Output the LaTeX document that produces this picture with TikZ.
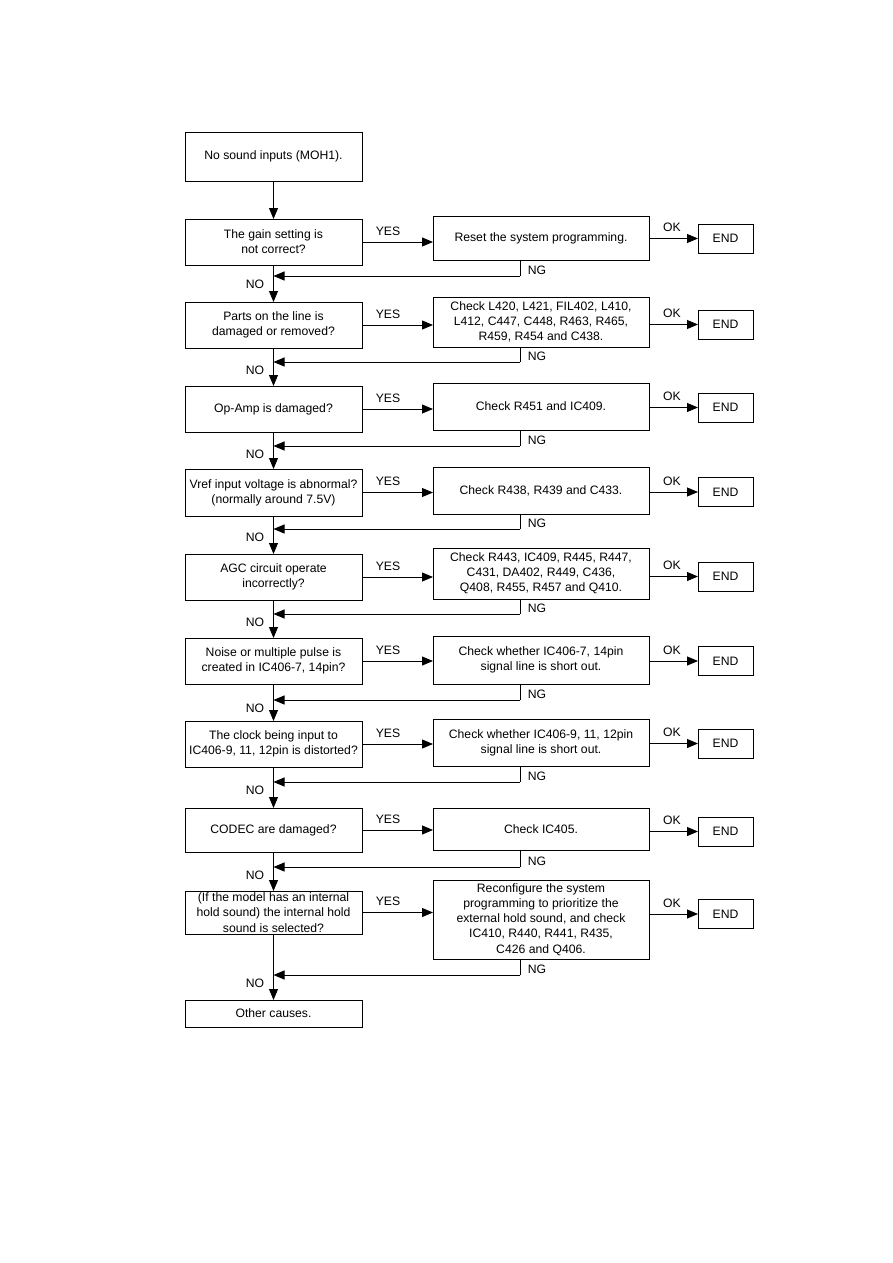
\documentclass[tikz,border=0pt]{standalone}
\usepackage{fontspec}
\setmainfont{Liberation Sans}
\usetikzlibrary{arrows.meta}
\begin{document}
\begin{tikzpicture}[x=1pt,y=-1pt,
  font=\fontsize{12.2}{15.2}\selectfont,
  box/.style={draw,line width=0.9pt,align=center,inner sep=1pt,minimum width=#1,outer sep=0pt},
  lbox/.style={box=177pt},
  cbox/.style={box=216pt},
  ebox/.style={box=55pt,minimum height=29pt},
  arr/.style={line width=0.9pt,-{Triangle[length=11pt,width=9pt]}},
  ln/.style={line width=0.9pt},
  lab/.style={inner sep=0pt}]
\useasboundingbox (0,0) rectangle (893,1263);
% left column
\node[lbox,minimum height=49pt] (L0) at (273.5,156.5) {No sound inputs (MOH1).};
\node[lbox,minimum height=46pt] (L1) at (273.5,242) {The gain setting is\\not correct?};
\node[lbox,minimum height=46pt] (L2) at (273.5,325) {Parts on the line is\\damaged or removed?};
\node[lbox,minimum height=46pt] (L3) at (273.5,409) {Op-Amp is damaged?};
\node[lbox,minimum height=47pt] (L4) at (273.5,492.5) {Vref input voltage is abnormal?\\(normally around 7.5V)};
\node[lbox,minimum height=46pt] (L5) at (273.5,577) {AGC circuit operate\\incorrectly?};
\node[lbox,minimum height=46pt] (L6) at (273.5,661) {Noise or multiple pulse is\\created in IC406-7, 14pin?};
\node[lbox,minimum height=46pt] (L7) at (273.5,744) {The clock being input to\\IC406-9, 11, 12pin is distorted?};
\node[lbox,minimum height=44pt] (L8) at (273.5,830) {CODEC are damaged?};
\node[lbox,minimum height=43pt] (L9) at (273.5,912.5) {(If the model has an internal\\hold sound) the internal hold\\sound is selected?};
\node[lbox,minimum height=27pt] (L10) at (273.5,1013.5) {Other causes.};
% check column
\node[cbox,minimum height=44pt] (C1) at (541,238) {Reset the system programming.};
\node[cbox,minimum height=50pt] (C2) at (541,322) {Check L420, L421, FIL402, L410,\\L412, C447, C448, R463, R465,\\R459, R454 and C438.};
\node[cbox,minimum height=47pt] (C3) at (541,406.5) {Check R451 and IC409.};
\node[cbox,minimum height=47pt] (C4) at (541,490.5) {Check R438, R439 and C433.};
\node[cbox,minimum height=51pt] (C5) at (541,573.5) {Check R443, IC409, R445, R447,\\C431, DA402, R449, C436,\\Q408, R455, R457 and Q410.};
\node[cbox,minimum height=48pt] (C6) at (541,660) {Check whether IC406-7, 14pin\\signal line is short out.};
\node[cbox,minimum height=47pt] (C7) at (541,742.5) {Check whether IC406-9, 11, 12pin\\signal line is short out.};
\node[cbox,minimum height=42pt] (C8) at (541,829) {Check IC405.};
\node[cbox,minimum height=79pt] (C9) at (541,919.5) {Reconfigure the system\\programming to prioritize the\\external hold sound, and check\\IC410, R440, R441, R435,\\C426 and Q406.};
% END column
\node[ebox] (E1) at (725.5,238.5) {END};
\node[ebox] (E2) at (725.5,324.5) {END};
\node[ebox] (E3) at (725.5,407.5) {END};
\node[ebox] (E4) at (725.5,492) {END};
\node[ebox] (E5) at (725.5,576.5) {END};
\node[ebox] (E6) at (725.5,661) {END};
\node[ebox] (E7) at (725.5,743.5) {END};
\node[ebox] (E8) at (725.5,831.5) {END};
\node[ebox] (E9) at (725.5,914) {END};
% main vertical flow
\foreach \a/\b in {L0/L1,L1/L2,L2/L3,L3/L4,L4/L5,L5/L6,L6/L7,L7/L8,L8/L9,L9/L10}
  \draw[arr] (\a.south) -- (\b.north);
% NG return points
\coordinate (ng1) at (520,276);
\coordinate (ng2) at (520,362);
\coordinate (ng3) at (520,446);
\coordinate (ng4) at (520,529);
\coordinate (ng5) at (520,614);
\coordinate (ng6) at (520,700);
\coordinate (ng7) at (520,782);
\coordinate (ng8) at (520,867);
\coordinate (ng9) at (520,975);
\foreach \i in {1,...,9} {
  % YES
  \draw[arr] (L\i.east) -- (L\i.east -| C\i.west);
  \node[lab] at ([xshift=26pt,yshift=11pt]L\i.east) {YES};
  % OK
  \draw[arr] (E\i.west -| C\i.east) -- (E\i.west);
  \node[lab] at ([xshift=-26pt,yshift=11pt]E\i.west) {OK};
  % NG
  \draw[ln] (C\i.south -| ng\i) -- (ng\i);
  \draw[arr] (ng\i) -- (ng\i -| L\i.south);
  \node[lab] at ([xshift=17pt,yshift=6pt]ng\i) {NG};
  \node[lab] at ([xshift=-18.5pt,yshift=-8pt]ng\i -| L\i.south) {NO};
}
\end{tikzpicture}
\end{document}
